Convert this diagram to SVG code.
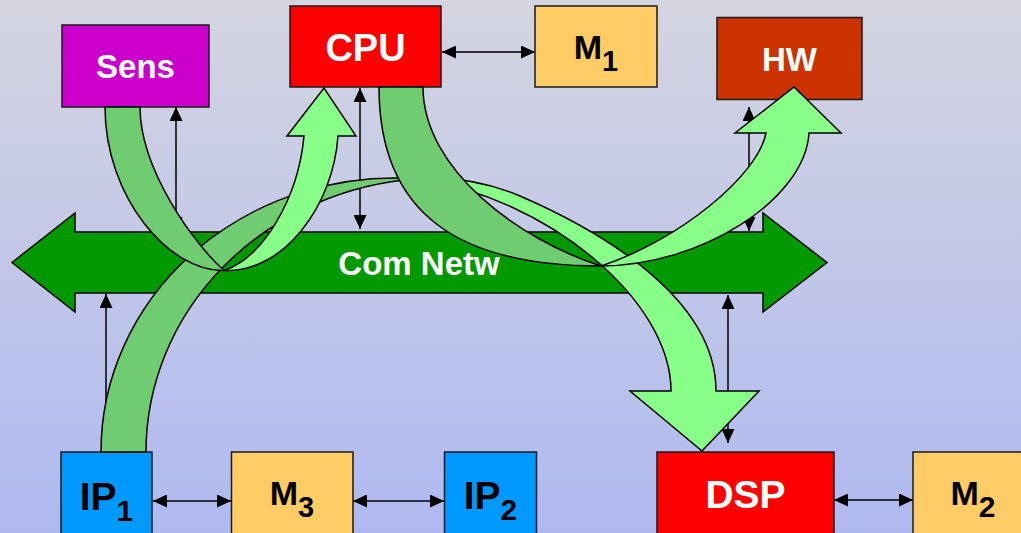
<svg xmlns="http://www.w3.org/2000/svg" width="1021" height="533" viewBox="0 0 1021 533">
  <defs>
    <linearGradient id="bg" x1="0" y1="0" x2="0" y2="1">
      <stop offset="0" stop-color="#D4D5E0"/>
      <stop offset="1" stop-color="#AFB9F0"/>
    </linearGradient>
    <marker id="ah" viewBox="0 0 14 13" refX="14" refY="6.5" markerWidth="14" markerHeight="13" markerUnits="userSpaceOnUse" orient="auto-start-reverse">
      <path d="M0,0 L14,6.5 L0,13 Z" fill="#000"/>
    </marker>
    <style>
      .box { stroke: #1a1a1a; stroke-width: 1.5; }
      .lbl { font-family: "Liberation Sans", Arial, sans-serif; font-weight: bold; text-anchor: middle; }
      .w { fill: #FFFFFF; }
      .k { fill: #000000; }
      .link { stroke: #000; stroke-width: 1.5; fill: none; marker-end: url(#ah); }
      .both { marker-start: url(#ah); }
      .back { fill: #70CC70; stroke: #000; stroke-width: 1.5; stroke-linejoin: round; }
      .front { fill: #88FF88; stroke: #000; stroke-width: 1.5; stroke-linejoin: miter; }
    </style>
  </defs>

  <rect x="0" y="0" width="1021" height="533" fill="url(#bg)"/>

  <!-- communication network: double-headed bus arrow -->
  <g id="bus">
    <path d="M12,262.5 L75,213 L75,232 L763,232 L763,213 L827,262.5 L763,312 L763,293 L75,293 L75,312 Z" fill="#009900" stroke="#000" stroke-width="1.5" stroke-linejoin="miter"/>
    <text class="lbl w" x="419" y="275" font-size="33">Com Netw</text>
  </g>

  <!-- point-to-point links -->
  <g id="connectors">
    <line class="link both" x1="176" y1="107" x2="176" y2="231"/>
    <line class="link both" x1="360" y1="88" x2="360" y2="229"/>
    <line class="link both" x1="749" y1="107" x2="749" y2="231"/>
    <line class="link" x1="106" y1="452" x2="106" y2="294"/>
    <line class="link both" x1="728" y1="295" x2="728" y2="443"/>
    <line class="link both" x1="442" y1="52" x2="535" y2="52"/>
    <line class="link both" x1="153" y1="501" x2="231" y2="501"/>
    <line class="link both" x1="353" y1="501" x2="444" y2="501"/>
    <line class="link both" x1="834" y1="500" x2="913" y2="500"/>
  </g>

  <g id="sens">
    <rect class="box" x="62" y="25" width="147" height="82" fill="#CC00CC"/>
    <text class="lbl w" x="135.5" y="78" font-size="33">Sens</text>
  </g>
  <g id="cpu">
    <rect class="box" x="290" y="6" width="151" height="81" fill="#FF0000"/>
    <text class="lbl w" x="365.5" y="61" font-size="38">CPU</text>
  </g>
  <g id="m1">
    <rect class="box" x="535" y="6" width="122" height="81" fill="#FFCC66"/>
    <text class="lbl k" x="596" y="59" font-size="34">M<tspan dy="12" font-size="29">1</tspan></text>
  </g>
  <g id="hw">
    <rect class="box" x="717" y="17.5" width="145" height="82" fill="#CC3300"/>
    <text class="lbl w" x="789.5" y="71" font-size="33">HW</text>
  </g>
  <g id="ip1">
    <rect class="box" x="61" y="452" width="91" height="95" fill="#0099FF"/>
    <text class="lbl k" x="106.5" y="510" font-size="39">IP<tspan dy="11" font-size="30">1</tspan></text>
  </g>
  <g id="m3">
    <rect class="box" x="231.5" y="452" width="121.5" height="95" fill="#FFCC66"/>
    <text class="lbl k" x="292" y="505" font-size="34">M<tspan dy="12" font-size="29">3</tspan></text>
  </g>
  <g id="ip2">
    <rect class="box" x="444.5" y="452" width="92" height="95" fill="#0099FF"/>
    <text class="lbl k" x="490.5" y="509" font-size="39">IP<tspan dy="11" font-size="30">2</tspan></text>
  </g>
  <g id="dsp">
    <rect class="box" x="657" y="452" width="177" height="95" fill="#FF0000"/>
    <text class="lbl w" x="745.5" y="508" font-size="39">DSP</text>
  </g>
  <g id="m2">
    <rect class="box" x="913" y="452" width="130" height="95" fill="#FFCC66"/>
    <text class="lbl k" x="973" y="505" font-size="34">M<tspan dy="12" font-size="30">2</tspan></text>
  </g>

  <!-- twisted ribbon arrows showing data flows -->
  <g id="flows">
    <g id="flow-ip1-dsp">
      <path class="back" d="M101,452 A294,274 0 0 1 417.5,178.8 A294,274 0 0 0 146,452 Z"/>
      <path class="front" d="M417.5,178.8 C460,175.5 492,184 520,196 C580,222 716,290 716,391 L759,391 L702,451 L630,391 L671,391 C671,300 548,198 417.5,178.8 Z"/>
    </g>
    <g id="flow-cpu-hw">
      <path class="back" d="M379,87 C379,215 460,266 601,266 C520,240 423,170 423,87 Z"/>
      <path class="front" d="M601,266 C700,266 805,200 809,133 L841,133 L794,87 L735,133 L766,133 C758,175 680,240 601,266 Z"/>
    </g>
    <g id="flow-sens-cpu">
      <path class="back" d="M105,107 C105,198 170,272 224,270.5 C195,245 140,170 140,107 Z"/>
      <path class="front" d="M224,270.5 C283,273 333,207 338,136 L356,136 L324,88 L287,136 L304,136 C298,200 262,258 224,270.5 Z"/>
    </g>
  </g>
</svg>
